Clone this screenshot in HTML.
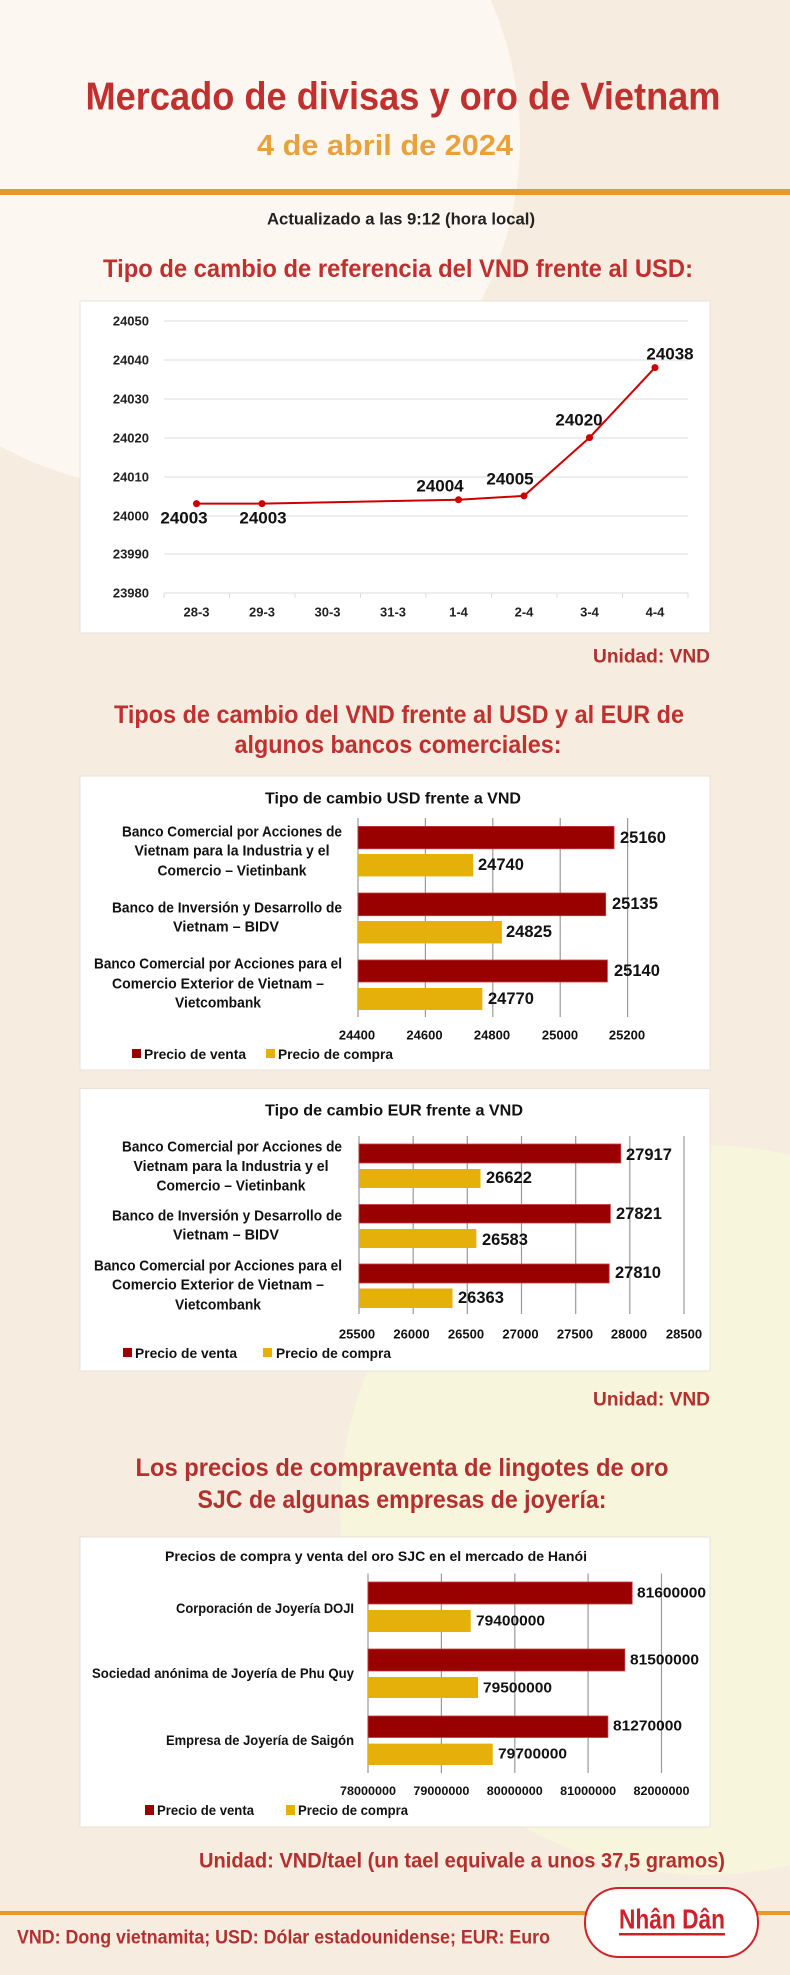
<!DOCTYPE html>
<html><head><meta charset="utf-8"><style>
html,body{margin:0;padding:0;background:#f6ece0;}
svg{display:block;}
text{font-family:"Liberation Sans",sans-serif;font-weight:bold;}
</style></head><body>
<svg width="790" height="1975" viewBox="0 0 790 1975" xmlns="http://www.w3.org/2000/svg">
<rect width="790" height="1975" fill="#f6ece0"/>
<circle cx="170" cy="140" r="350" fill="#fcf8f1"/>
<circle cx="705" cy="1510" r="365" fill="#f7f5dc"/>

<!-- header -->
<text x="403" y="97" text-anchor="middle" dominant-baseline="central" font-size="39" fill="#c0302f" textLength="635" lengthAdjust="spacingAndGlyphs">Mercado de divisas y oro de Vietnam</text>
<text x="385" y="146" text-anchor="middle" dominant-baseline="central" font-size="29" fill="#e9a23b" textLength="256" lengthAdjust="spacingAndGlyphs">4 de abril de 2024</text>
<rect x="0" y="189" width="790" height="6" fill="#e39a2a"/>
<text x="401" y="219" text-anchor="middle" dominant-baseline="central" font-size="17" fill="#222" textLength="268" lengthAdjust="spacingAndGlyphs">Actualizado a las 9:12 (hora local)</text>
<text x="398" y="269" text-anchor="middle" dominant-baseline="central" font-size="25" fill="#c0302f" textLength="590" lengthAdjust="spacingAndGlyphs">Tipo de cambio de referencia del VND frente al USD:</text>

<!-- line chart -->
<rect x="80" y="301" width="630" height="332" fill="#fff" stroke="#e8e2da"/>
<g stroke="#dcdcdc" stroke-width="1">
<line x1="164" x2="688" y1="321" y2="321"/><line x1="164" x2="688" y1="360" y2="360"/>
<line x1="164" x2="688" y1="399" y2="399"/><line x1="164" x2="688" y1="438" y2="438"/>
<line x1="164" x2="688" y1="477" y2="477"/><line x1="164" x2="688" y1="516" y2="516"/>
<line x1="164" x2="688" y1="554" y2="554"/><line x1="164" x2="688" y1="593" y2="593"/>
<line x1="164" x2="164" y1="593" y2="598"/><line x1="229.5" x2="229.5" y1="593" y2="598"/>
<line x1="295" x2="295" y1="593" y2="598"/><line x1="360.5" x2="360.5" y1="593" y2="598"/>
<line x1="426" x2="426" y1="593" y2="598"/><line x1="491.5" x2="491.5" y1="593" y2="598"/>
<line x1="557" x2="557" y1="593" y2="598"/><line x1="622.5" x2="622.5" y1="593" y2="598"/>
<line x1="688" x2="688" y1="593" y2="598"/>
</g>
<g font-size="13" fill="#222" text-anchor="end" dominant-baseline="central">
<text x="149" y="321">24050</text><text x="149" y="360">24040</text><text x="149" y="399">24030</text><text x="149" y="438">24020</text>
<text x="149" y="477">24010</text><text x="149" y="516">24000</text><text x="149" y="554">23990</text><text x="149" y="593">23980</text>
</g>
<g font-size="13" fill="#222" text-anchor="middle" dominant-baseline="central">
<text x="196.5" y="612">28-3</text><text x="262" y="612">29-3</text><text x="327.5" y="612">30-3</text><text x="393" y="612">31-3</text>
<text x="458.5" y="612">1-4</text><text x="524" y="612">2-4</text><text x="589.5" y="612">3-4</text><text x="655" y="612">4-4</text>
</g>
<polyline fill="none" stroke="#cc0000" stroke-width="2" points="196.5,503.6 262,503.6 458.5,499.7 524,495.9 589.5,437.6 655,367.6"/>
<g fill="#cc0000">
<circle cx="196.5" cy="503.6" r="3.5"/><circle cx="262" cy="503.6" r="3.5"/><circle cx="458.5" cy="499.7" r="3.5"/>
<circle cx="524" cy="495.9" r="3.5"/><circle cx="589.5" cy="437.6" r="3.5"/><circle cx="655" cy="367.6" r="3.5"/>
</g>
<g font-size="17" fill="#111" text-anchor="middle" dominant-baseline="central">
<text x="184" y="518">24003</text><text x="263" y="518">24003</text><text x="440" y="486">24004</text>
<text x="510" y="479">24005</text><text x="579" y="420">24020</text><text x="670" y="354">24038</text>
</g>
<text x="710" y="657" text-anchor="end" dominant-baseline="central" font-size="19" fill="#b3302e" textLength="117" lengthAdjust="spacingAndGlyphs">Unidad: VND</text>

<!-- section 2 -->
<text x="399" y="715" text-anchor="middle" dominant-baseline="central" font-size="25" fill="#c0302f" textLength="570" lengthAdjust="spacingAndGlyphs">Tipos de cambio del VND frente al USD y al EUR de</text>
<text x="398" y="745" text-anchor="middle" dominant-baseline="central" font-size="25" fill="#c0302f" textLength="327" lengthAdjust="spacingAndGlyphs">algunos bancos comerciales:</text>

<!-- USD chart -->
<rect x="80" y="776" width="630" height="294" fill="#fff" stroke="#e8e2da"/>
<text x="393" y="799" text-anchor="middle" dominant-baseline="central" font-size="16" fill="#111" textLength="256" lengthAdjust="spacingAndGlyphs">Tipo de cambio USD frente a VND</text>
<g stroke="#999" stroke-width="1.2">
<line x1="358" x2="358" y1="818" y2="1017"/><line x1="425.4" x2="425.4" y1="818" y2="1017"/>
<line x1="492.8" x2="492.8" y1="818" y2="1017"/><line x1="560.2" x2="560.2" y1="818" y2="1017"/><line x1="627.6" x2="627.6" y1="818" y2="1017"/>
</g>
<g stroke="#c04040" stroke-width="0.8">
<rect x="358" y="826.4" width="256.1" height="22.4" fill="#990000"/>
<rect x="358" y="893" width="247.7" height="22.7" fill="#990000"/>
<rect x="358" y="960" width="249.4" height="22" fill="#990000"/>
</g>
<rect x="358" y="854" width="115.2" height="22.4" fill="#e6b00a"/>
<rect x="358" y="921" width="143.9" height="22.4" fill="#e6b00a"/>
<rect x="358" y="988" width="124.3" height="22" fill="#e6b00a"/>
<g font-size="16.5" fill="#111" dominant-baseline="central">
<text x="620" y="838">25160</text><text x="478" y="865">24740</text>
<text x="612" y="904">25135</text><text x="506" y="932">24825</text>
<text x="614" y="971">25140</text><text x="488" y="999">24770</text>
</g>
<g font-size="15" fill="#111" text-anchor="middle" dominant-baseline="central" lengthAdjust="spacingAndGlyphs">
<text x="232" y="832" textLength="220" lengthAdjust="spacingAndGlyphs">Banco Comercial por Acciones de</text>
<text x="232" y="851" textLength="195" lengthAdjust="spacingAndGlyphs">Vietnam para la Industria y el</text>
<text x="232" y="871" textLength="149" lengthAdjust="spacingAndGlyphs">Comercio – Vietinbank</text>
<text x="227" y="908" textLength="230" lengthAdjust="spacingAndGlyphs">Banco de Inversión y Desarrollo de</text>
<text x="226" y="927" textLength="106" lengthAdjust="spacingAndGlyphs">Vietnam – BIDV</text>
<text x="218" y="964" textLength="248" lengthAdjust="spacingAndGlyphs">Banco Comercial por Acciones para el</text>
<text x="218" y="984" textLength="212" lengthAdjust="spacingAndGlyphs">Comercio Exterior de Vietnam –</text>
<text x="218" y="1003" textLength="86" lengthAdjust="spacingAndGlyphs">Vietcombank</text>
</g>
<g font-size="13" fill="#111" text-anchor="middle" dominant-baseline="central">
<text x="357" y="1035">24400</text><text x="424.5" y="1035">24600</text><text x="492" y="1035">24800</text><text x="560" y="1035">25000</text><text x="627" y="1035">25200</text>
</g>
<rect x="132" y="1049" width="9" height="9" fill="#990000"/>
<text x="144" y="1054" dominant-baseline="central" font-size="14" fill="#111" textLength="102" lengthAdjust="spacingAndGlyphs">Precio de venta</text>
<rect x="266" y="1049" width="9" height="9" fill="#e6b00a"/>
<text x="278" y="1054" dominant-baseline="central" font-size="14" fill="#111" textLength="115" lengthAdjust="spacingAndGlyphs">Precio de compra</text>

<!-- EUR chart -->
<rect x="80" y="1088.5" width="630" height="282.5" fill="#fff" stroke="#e8e2da"/>
<text x="394" y="1111" text-anchor="middle" dominant-baseline="central" font-size="16" fill="#111" textLength="258" lengthAdjust="spacingAndGlyphs">Tipo de cambio EUR frente a VND</text>
<g stroke="#999" stroke-width="1.2">
<line x1="359" x2="359" y1="1136" y2="1314"/><line x1="413.2" x2="413.2" y1="1136" y2="1314"/>
<line x1="467.3" x2="467.3" y1="1136" y2="1314"/><line x1="521.5" x2="521.5" y1="1136" y2="1314"/>
<line x1="575.7" x2="575.7" y1="1136" y2="1314"/><line x1="629.8" x2="629.8" y1="1136" y2="1314"/><line x1="684" x2="684" y1="1136" y2="1314"/>
</g>
<g stroke="#c04040" stroke-width="0.8">
<rect x="359" y="1144" width="261.8" height="19" fill="#990000"/>
<rect x="359" y="1204.5" width="251.4" height="18.5" fill="#990000"/>
<rect x="359" y="1264" width="250.2" height="19" fill="#990000"/>
</g>
<rect x="359" y="1169" width="121.5" height="19" fill="#e6b00a"/>
<rect x="359" y="1229" width="117.3" height="19" fill="#e6b00a"/>
<rect x="359" y="1288.5" width="93.5" height="19.5" fill="#e6b00a"/>
<g font-size="16.5" fill="#111" dominant-baseline="central">
<text x="626" y="1155">27917</text><text x="486" y="1178">26622</text>
<text x="616" y="1214">27821</text><text x="482" y="1240">26583</text>
<text x="615" y="1273">27810</text><text x="458" y="1298">26363</text>
</g>
<g font-size="15" fill="#111" text-anchor="middle" dominant-baseline="central">
<text x="232" y="1147" textLength="220" lengthAdjust="spacingAndGlyphs">Banco Comercial por Acciones de</text>
<text x="231" y="1166.6" textLength="195" lengthAdjust="spacingAndGlyphs">Vietnam para la Industria y el</text>
<text x="231" y="1186" textLength="149" lengthAdjust="spacingAndGlyphs">Comercio – Vietinbank</text>
<text x="227" y="1216" textLength="230" lengthAdjust="spacingAndGlyphs">Banco de Inversión y Desarrollo de</text>
<text x="226" y="1235" textLength="106" lengthAdjust="spacingAndGlyphs">Vietnam – BIDV</text>
<text x="218" y="1266" textLength="248" lengthAdjust="spacingAndGlyphs">Banco Comercial por Acciones para el</text>
<text x="218" y="1285" textLength="212" lengthAdjust="spacingAndGlyphs">Comercio Exterior de Vietnam –</text>
<text x="218" y="1305" textLength="86" lengthAdjust="spacingAndGlyphs">Vietcombank</text>
</g>
<g font-size="13" fill="#111" text-anchor="middle" dominant-baseline="central">
<text x="357" y="1334">25500</text><text x="411.5" y="1334">26000</text><text x="466" y="1334">26500</text><text x="520.5" y="1334">27000</text>
<text x="575" y="1334">27500</text><text x="629" y="1334">28000</text><text x="684" y="1334">28500</text>
</g>
<rect x="123" y="1348" width="9" height="9" fill="#990000"/>
<text x="135" y="1353" dominant-baseline="central" font-size="14" fill="#111" textLength="102" lengthAdjust="spacingAndGlyphs">Precio de venta</text>
<rect x="263" y="1348" width="9" height="9" fill="#e6b00a"/>
<text x="276" y="1353" dominant-baseline="central" font-size="14" fill="#111" textLength="115" lengthAdjust="spacingAndGlyphs">Precio de compra</text>

<text x="710" y="1400" text-anchor="end" dominant-baseline="central" font-size="19" fill="#b3302e" textLength="117" lengthAdjust="spacingAndGlyphs">Unidad: VND</text>

<!-- section 3 -->
<text x="402" y="1468" text-anchor="middle" dominant-baseline="central" font-size="25" fill="#b3302e" textLength="533" lengthAdjust="spacingAndGlyphs">Los precios de compraventa de lingotes de oro</text>
<text x="402" y="1500" text-anchor="middle" dominant-baseline="central" font-size="25" fill="#b3302e" textLength="409" lengthAdjust="spacingAndGlyphs">SJC de algunas empresas de joyería:</text>

<rect x="80" y="1537" width="630" height="290" fill="#fff" stroke="#e8e2da"/>
<text x="376" y="1556" text-anchor="middle" dominant-baseline="central" font-size="14" fill="#111" textLength="422" lengthAdjust="spacingAndGlyphs">Precios de compra y venta del oro SJC en el mercado de Hanói</text>
<g stroke="#999" stroke-width="1.2">
<line x1="368" x2="368" y1="1573.5" y2="1773"/><line x1="441.4" x2="441.4" y1="1573.5" y2="1773"/>
<line x1="514.8" x2="514.8" y1="1573.5" y2="1773"/><line x1="588.1" x2="588.1" y1="1573.5" y2="1773"/><line x1="661.5" x2="661.5" y1="1573.5" y2="1773"/>
</g>
<g stroke="#c04040" stroke-width="0.8">
<rect x="368" y="1582" width="264.2" height="22" fill="#990000"/>
<rect x="368" y="1649" width="256.8" height="22" fill="#990000"/>
<rect x="368" y="1716" width="239.9" height="21.5" fill="#990000"/>
</g>
<rect x="368" y="1610" width="102.7" height="22" fill="#e6b00a"/>
<rect x="368" y="1677" width="110" height="21" fill="#e6b00a"/>
<rect x="368" y="1743.6" width="124.7" height="21.4" fill="#e6b00a"/>
<g font-size="15" fill="#111" dominant-baseline="central">
<text x="637" y="1593" textLength="69" lengthAdjust="spacingAndGlyphs">81600000</text>
<text x="476" y="1621" textLength="69" lengthAdjust="spacingAndGlyphs">79400000</text>
<text x="630" y="1660" textLength="69" lengthAdjust="spacingAndGlyphs">81500000</text>
<text x="483" y="1688" textLength="69" lengthAdjust="spacingAndGlyphs">79500000</text>
<text x="613" y="1726" textLength="69" lengthAdjust="spacingAndGlyphs">81270000</text>
<text x="498" y="1754" textLength="69" lengthAdjust="spacingAndGlyphs">79700000</text>
</g>
<g font-size="14" fill="#111" text-anchor="end" dominant-baseline="central">
<text x="354" y="1608" textLength="178" lengthAdjust="spacingAndGlyphs">Corporación de Joyería DOJI</text>
<text x="354" y="1673" textLength="262" lengthAdjust="spacingAndGlyphs">Sociedad anónima de Joyería de Phu Quy</text>
<text x="354" y="1740" textLength="188" lengthAdjust="spacingAndGlyphs">Empresa de Joyería de Saigón</text>
</g>
<g font-size="12" fill="#111" text-anchor="middle" dominant-baseline="central">
<text x="368" y="1791" textLength="56" lengthAdjust="spacingAndGlyphs">78000000</text>
<text x="441.4" y="1791" textLength="56" lengthAdjust="spacingAndGlyphs">79000000</text>
<text x="514.8" y="1791" textLength="56" lengthAdjust="spacingAndGlyphs">80000000</text>
<text x="588.1" y="1791" textLength="56" lengthAdjust="spacingAndGlyphs">81000000</text>
<text x="661.5" y="1791" textLength="56" lengthAdjust="spacingAndGlyphs">82000000</text>
</g>
<rect x="145" y="1805" width="9" height="10" fill="#990000"/>
<text x="157" y="1810" dominant-baseline="central" font-size="14" fill="#111" textLength="97" lengthAdjust="spacingAndGlyphs">Precio de venta</text>
<rect x="286" y="1805" width="9" height="10" fill="#e6b00a"/>
<text x="298" y="1810" dominant-baseline="central" font-size="14" fill="#111" textLength="110" lengthAdjust="spacingAndGlyphs">Precio de compra</text>

<text x="199" y="1861" dominant-baseline="central" font-size="21" fill="#b3302e" textLength="526" lengthAdjust="spacingAndGlyphs">Unidad: VND/tael (un tael equivale a unos 37,5 gramos)</text>

<!-- footer -->
<rect x="0" y="1911" width="790" height="4" fill="#e39a2a"/>
<text x="17" y="1938" dominant-baseline="central" font-size="19" fill="#b3302e" textLength="533" lengthAdjust="spacingAndGlyphs">VND: Dong vietnamita; USD: Dólar estadounidense; EUR: Euro</text>
<rect x="585" y="1888" width="173" height="69" rx="34" ry="34" fill="#fff" stroke="#d0202a" stroke-width="2"/>
<text x="672" y="1919" text-anchor="middle" dominant-baseline="central" font-size="28" fill="#d0202a" textLength="106" lengthAdjust="spacingAndGlyphs">Nhân Dân</text>
<rect x="619" y="1933" width="106" height="2.5" fill="#d0202a"/>
</svg>
</body></html>
